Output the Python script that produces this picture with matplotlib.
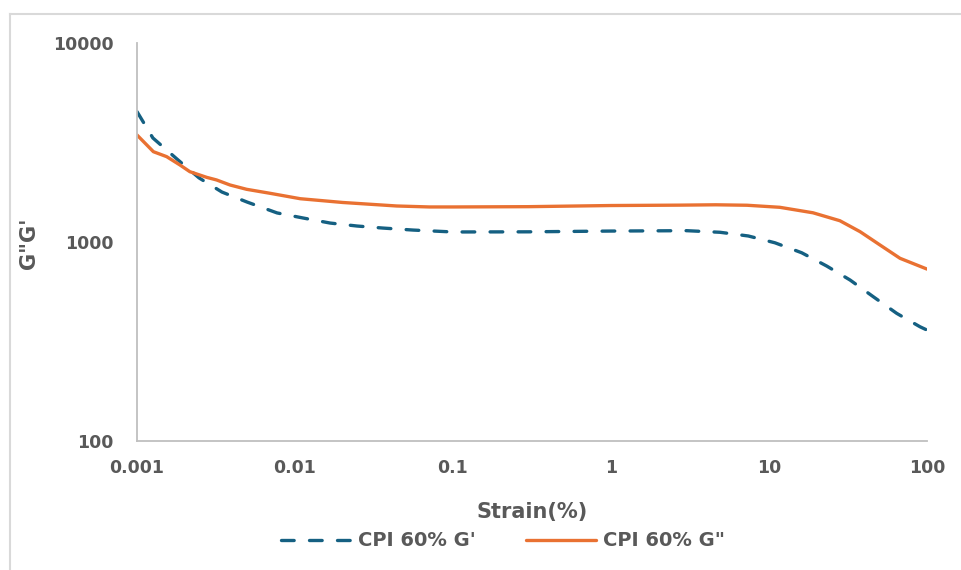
import matplotlib
matplotlib.use("Agg")
import matplotlib.pyplot as plt
from matplotlib.lines import Line2D

# Data
strain_gp = [0.001, 0.00126, 0.00179, 0.00247, 0.00345, 0.00497, 0.0077, 0.0112, 0.0167,
             0.0247, 0.036, 0.056, 0.1, 0.3, 1, 3.01, 4.9, 7.4, 10.9, 16.1, 23.2, 32.6,
             45.7, 64.3, 90.3, 100]
g_prime = [4520, 3333, 2612, 2099, 1782, 1588, 1400, 1321, 1245,
           1203, 1175, 1148, 1123, 1125, 1135, 1140, 1119, 1072, 991, 883, 757, 644,
           531, 438, 375, 361]

strain_gpp = [0.001, 0.00127, 0.00154, 0.00187, 0.00216, 0.00276, 0.00319, 0.00388, 0.00494,
              0.00695, 0.0108, 0.02, 0.044, 0.071, 0.1, 0.3, 1, 2.74, 4.6, 7.26, 11.7, 19.0,
              28.1, 37.7, 50.4, 67.5, 100]
g_dprime = [3450, 2843, 2685, 2438, 2256, 2113, 2050, 1934, 1840,
            1757, 1650, 1580, 1517, 1500, 1500, 1505, 1525, 1532, 1538, 1530, 1494, 1402,
            1279, 1127, 966, 828, 731]

x_ticks = [0.001, 0.01, 0.1, 1, 10, 100]
x_labels = ["0.001", "0.01", "0.1", "1", "10", "100"]
y_ticks = [100, 1000, 10000]
y_labels = ["100", "1000", "10000"]

labels = ["CPI 60% G'", 'CPI 60% G"']
colors = ["#156082", "#E97132"]
text_color = "#595959"

plt.rcParams['font.family'] = ['DejaVu Sans']
fig = plt.figure(figsize=(9.62, 5.70), dpi=100)
W, H = 962, 570
ax = fig.add_axes([137 / W, 1 - 441 / H, (927 - 137) / W, (441 - 43) / H])

ax.plot(strain_gp, g_prime, color=colors[0], lw=2.4, linestyle=(0, (3.8, 4.6)),
        dash_capstyle='round', label=labels[0])
ax.plot(strain_gpp, g_dprime, color=colors[1], lw=2.4, solid_capstyle='round', label=labels[1])

ax.set_xscale('log')
ax.set_yscale('log')
ax.set_xlim(0.001, 100)
ax.set_ylim(100, 10000)
ax.set_xticks(x_ticks)
ax.set_xticklabels(x_labels)
ax.set_yticks(y_ticks)
ax.set_yticklabels(y_labels)
ax.minorticks_off()
ax.tick_params(axis='both', length=0, labelsize=12.5, labelcolor=text_color)
ax.tick_params(axis='x', pad=13)
ax.tick_params(axis='y', pad=17)
for lab in ax.get_xticklabels() + ax.get_yticklabels():
    lab.set_fontweight('bold')

for s in ['top', 'right']:
    ax.spines[s].set_visible(False)
for s in ['left', 'bottom']:
    ax.spines[s].set_color('#BFBFBF')
    ax.spines[s].set_linewidth(1.3)

ax.set_xlabel("Strain(%)", fontsize=15, fontweight='bold', color=text_color, labelpad=18)
fig.text(29 / W, 1 - 243 / H, 'G"G\'', rotation=90, fontsize=15, fontweight='bold',
         color=text_color, ha='center', va='center')

leg = fig.legend(loc='center', bbox_to_anchor=(503 / W, 1 - 541 / H), ncol=2, frameon=False,
                 handlelength=3.6, columnspacing=2.6, handletextpad=0.35,
                 prop={'size': 14, 'weight': 'bold'})
for t in leg.get_texts():
    t.set_color(text_color)

# chart-area border (top and left visible)
fig.add_artist(Line2D([10 / W, 1], [1 - 14 / H, 1 - 14 / H], color='#D9D9D9', lw=1.5,
                      transform=fig.transFigure))
fig.add_artist(Line2D([10 / W, 10 / W], [0, 1 - 14 / H], color='#D9D9D9', lw=1.5,
                      transform=fig.transFigure))

fig.savefig("out.png", dpi=100, facecolor='white')
